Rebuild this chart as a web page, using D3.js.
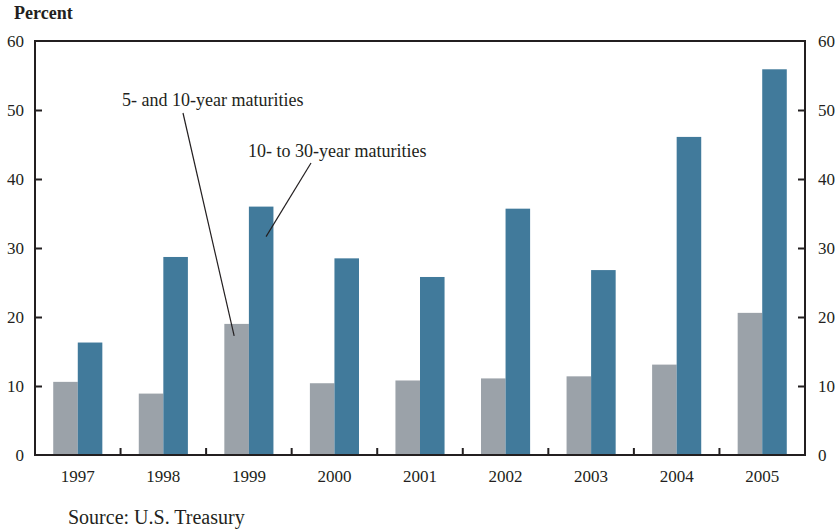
<!DOCTYPE html>
<html>
<head>
<meta charset="utf-8">
<script src="https://cdn.jsdelivr.net/npm/d3@7"></script>
<style>
  body { margin: 0; background: #fff; }
  svg text { font-family: "Liberation Serif", "DejaVu Serif", serif; fill: #231f20; }
</style>
</head>
<body>
<div id="chart"></div>
<script>
const years = ['1997', '1998', '1999', '2000', '2001', '2002', '2003', '2004', '2005']
const shortMat = [10.6, 8.9, 19.0, 10.4, 10.8, 11.1, 11.4, 13.1, 20.6]
const longMat = [16.3, 28.7, 36.0, 28.5, 25.8, 35.7, 26.8, 46.1, 55.9]
const yTicks = [0, 10, 20, 30, 40, 50, 60]

const width = 840, height = 532
const margin = { top: 41, right: 35, bottom: 77, left: 35 }
const serif = '"Liberation Serif", "DejaVu Serif", serif'

const svg = d3.select('#chart').append('svg')
  .attr('width', width)
  .attr('height', height)

let x = d3.scaleBand()
  .domain(years)
  .range([margin.left, width - margin.right])

let inner = d3.scaleBand()
  .domain(['short', 'long'])
  .range([x.bandwidth() * 0.213, x.bandwidth() * 0.787])

let y = d3.scaleLinear()
  .domain([0, 60])
  .range([height - margin.bottom, margin.top])

// bars
let groups = svg.append('g').selectAll('g')
  .data(years)
  .join('g')
  .attr('transform', d => `translate(${x(d)},0)`)

groups.append('rect')
  .attr('x', inner('short'))
  .attr('width', inner.bandwidth())
  .attr('y', (d, i) => y(shortMat[i]))
  .attr('height', (d, i) => y(0) - y(shortMat[i]))
  .attr('fill', '#9ba2a9')

groups.append('rect')
  .attr('x', inner('long'))
  .attr('width', inner.bandwidth())
  .attr('y', (d, i) => y(longMat[i]))
  .attr('height', (d, i) => y(0) - y(longMat[i]))
  .attr('fill', '#417a9b')

// frame
svg.append('rect')
  .attr('x', margin.left)
  .attr('y', margin.top)
  .attr('width', width - margin.left - margin.right)
  .attr('height', height - margin.top - margin.bottom)
  .attr('fill', 'none')
  .attr('stroke', '#231f20')
  .attr('stroke-width', 2)

let styleTicks = g => g
  .call(g => g.select('.domain').remove())
  .call(g => g.selectAll('.tick line').attr('stroke', '#231f20').attr('stroke-width', 2)
    .filter(d => d === 0 || d === 60).remove())
  .call(g => g.selectAll('.tick text')
    .style('font-family', serif).style('font-size', '17px').style('fill', '#231f20'))

// left axis
svg.append('g')
  .attr('transform', `translate(${margin.left},0)`)
  .call(d3.axisLeft(y).tickValues(yTicks).tickSize(-7).tickPadding(11))
  .call(styleTicks)

// right axis
svg.append('g')
  .attr('transform', `translate(${width - margin.right},0)`)
  .call(d3.axisRight(y).tickValues(yTicks).tickSize(-7).tickPadding(13))
  .call(styleTicks)

// bottom axis: labels centered, ticks between categories
svg.append('g')
  .attr('transform', `translate(0,${y(0)})`)
  .call(d3.axisBottom(x).tickSize(0).tickPadding(15))
  .call(g => g.select('.domain').remove())
  .call(g => g.selectAll('.tick text')
    .style('font-family', serif).style('font-size', '17px').style('fill', '#231f20'))

svg.append('g').selectAll('line')
  .data(years.slice(1))
  .join('line')
  .attr('x1', d => x(d))
  .attr('x2', d => x(d))
  .attr('y1', y(0))
  .attr('y2', y(0) - 7)
  .attr('stroke', '#231f20')
  .attr('stroke-width', 2)

// titles
svg.append('text')
  .attr('x', 14)
  .attr('y', 19)
  .style('font-size', '18px')
  .style('font-weight', 'bold')
  .text('Percent')

svg.append('text')
  .attr('x', 68)
  .attr('y', 524)
  .style('font-size', '20px')
  .text('Source: U.S. Treasury')

// annotations
let c99 = x('1999')
svg.append('line')
  .attr('x1', 183).attr('y1', 113)
  .attr('x2', c99 + inner('short') + inner.bandwidth() * 0.4).attr('y2', y(shortMat[2]) + 12)
  .attr('stroke', '#231f20').attr('stroke-width', 1.2)

svg.append('text')
  .attr('x', 122)
  .attr('y', 106)
  .style('font-size', '18px')
  .text('5- and 10-year maturities')

svg.append('line')
  .attr('x1', 311).attr('y1', 163)
  .attr('x2', c99 + inner('long') + inner.bandwidth() * 0.7).attr('y2', y(longMat[2]) + 30)
  .attr('stroke', '#231f20').attr('stroke-width', 1.2)

svg.append('text')
  .attr('x', 248)
  .attr('y', 157)
  .style('font-size', '18px')
  .text('10- to 30-year maturities')
</script>
</body>
</html>
